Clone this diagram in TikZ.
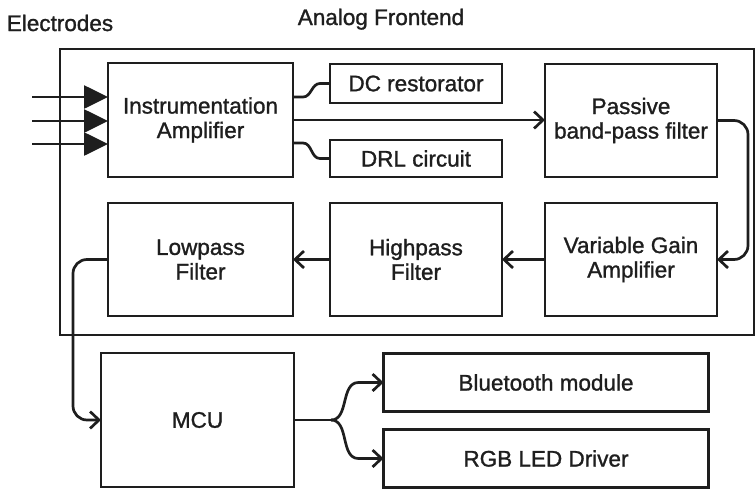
\documentclass[tikz,border=0pt]{standalone}
\usepackage{fontspec}
\setmainfont{Liberation Sans}[FakeBold=1.2]
\newfontfamily\labelfont{Liberation Sans}[FakeBold=1.2]
\usetikzlibrary{positioning,arrows.meta}
\definecolor{Ink}{HTML}{1E1E1E}

\begin{document}
\begin{tikzpicture}[x=1pt,y=1pt,line width=2.7pt,Ink,
    >={Straight Barb[length=9pt,width=17pt]},
    block/.style={draw,outer sep=0pt,align=center,inner sep=2pt,font=\labelfont\fontsize{22.5}{24.5}\selectfont},
    title/.style={font=\labelfont\fontsize{22.5}{24.5}\selectfont,anchor=base}]
    \useasboundingbox (0,0) rectangle (756,-488);
    \node[draw,outer sep=0pt,minimum width=694pt,minimum height=286pt] (afe) at (407,-192) {};
    \node[title] (elec) at (60,-31) {Electrodes};
    \node[title] (afetitle) at (381,-25) {Analog Frontend};

    \node[block,minimum width=185pt,minimum height=114pt] (amp) at (200.5,-120) {Instrumentation\\Amplifier};
    \node[block,minimum width=172pt,minimum height=39pt] (dc) at (416,-83.5) {DC restorator};
    \node[block,minimum width=172pt,minimum height=37pt] (drl) at (416,-158.5) {DRL circuit};
    \node[block,minimum width=172pt,minimum height=113pt] (bpf) at (631,-120.5) {Passive\\band-pass filter};
    \node[block,minimum width=172pt,minimum height=113pt,below=26pt of bpf] (vga) {Variable Gain\\Amplifier};
    \node[block,minimum width=172pt,minimum height=113pt,left=43pt of vga] (hpf) {Highpass\\Filter};
    \node[block,minimum width=185pt,minimum height=113pt,left=37pt of hpf] (lpf) {Lowpass\\Filter};
    \node[block,minimum width=193pt,minimum height=134pt] (mcu) at (197.5,-420) {MCU};
    \node[block,minimum width=325pt,minimum height=58pt] (bt) at (546,-382.5) {Bluetooth module};
    \node[block,minimum width=325pt,minimum height=58pt,below=18pt of bt] (rgb) {RGB LED Driver};

    \foreach \i/\y in {1/97,2/121,3/144} {
      \coordinate (in\i) at (32,-\y);
      \draw[-{Triangle[length=24pt,width=23pt]}] (in\i) -- (in\i -| amp.west);
    }
    \draw ([yshift=23pt]amp.east) -- ++(10,0) to[out=0,in=180] ([xshift=-10pt]dc.west) -- (dc.west);
    \draw ([yshift=-23pt]amp.east) -- ++(10,0) to[out=0,in=180] ([xshift=-10pt]drl.west) -- (drl.west);
    \draw[->] (amp.east) -- (amp.east -| bpf.west);
    \draw[->,rounded corners=14pt] (bpf.east) -- ++(31,0) |- (vga.east);
    \draw[->] (vga) -- (hpf);
    \draw[->] (hpf) -- (lpf);
    \draw[->,rounded corners=14pt] (lpf.west) -- ++(-35,0) |- (mcu.west);
    \draw (mcu.east) -- ++(37,0) coordinate (split);
    \draw[->] (split) to[out=0,in=180] ([xshift=-25pt]bt.west) -- (bt.west);
    \draw[->] (split) to[out=0,in=180] ([xshift=-25pt]rgb.west) -- (rgb.west);
\end{tikzpicture}
\end{document}
